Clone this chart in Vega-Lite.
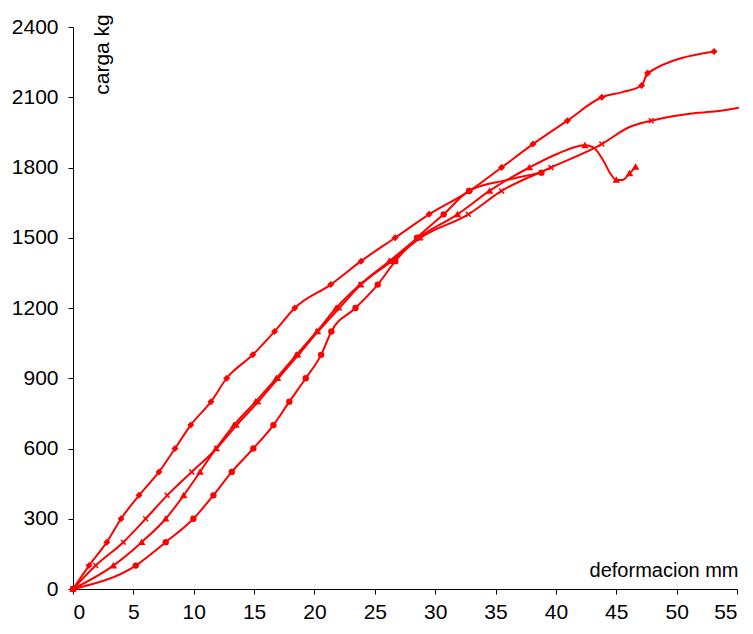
{
  "$schema": "https://vega.github.io/schema/vega-lite/v6.json",
  "width": 664,
  "height": 562,
  "autosize": {"type": "none"},
  "padding": {"left": 73, "top": 27, "right": 16, "bottom": 45},
  "background": "white",
  "config": {"view": {"stroke": null}, "font": "Liberation Sans"},
  "data": {"values": [
    {"s":"A","x":0,"y":0,"m":1},{"s":"A","x":1.33,"y":100,"m":1},{"s":"A","x":2.8,"y":200,"m":1},{"s":"A","x":3.98,"y":300,"m":1},{"s":"A","x":5.47,"y":400,"m":1},{"s":"A","x":7.12,"y":500,"m":1},{"s":"A","x":8.45,"y":600,"m":1},{"s":"A","x":9.75,"y":700,"m":1},{"s":"A","x":11.43,"y":800,"m":1},{"s":"A","x":12.73,"y":900,"m":1},{"s":"A","x":14.89,"y":1000,"m":1},{"s":"A","x":16.7,"y":1100,"m":1},{"s":"A","x":18.37,"y":1200,"m":1},{"s":"A","x":21.35,"y":1300,"m":1},{"s":"A","x":23.86,"y":1400,"m":1},{"s":"A","x":26.68,"y":1500,"m":1},{"s":"A","x":29.5,"y":1600,"m":1},{"s":"A","x":32.85,"y":1700,"m":1},{"s":"A","x":35.5,"y":1800,"m":1},{"s":"A","x":38.1,"y":1900,"m":1},{"s":"A","x":40.95,"y":2000,"m":1},{"s":"A","x":43.8,"y":2100,"m":1},{"s":"A","x":45.5,"y":2122,"m":0},{"s":"A","x":47.1,"y":2150,"m":1},{"s":"A","x":47.6,"y":2203,"m":1},{"s":"A","x":53.1,"y":2295,"m":1},
    {"s":"B","x":0,"y":0,"m":1},{"s":"B","x":1.88,"y":100,"m":1},{"s":"B","x":4.17,"y":200,"m":1},{"s":"B","x":6.02,"y":300,"m":1},{"s":"B","x":7.8,"y":400,"m":1},{"s":"B","x":9.83,"y":500,"m":1},{"s":"B","x":11.9,"y":600,"m":1},{"s":"B","x":13.56,"y":700,"m":1},{"s":"B","x":15.35,"y":800,"m":1},{"s":"B","x":17.0,"y":900,"m":1},{"s":"B","x":18.67,"y":1000,"m":1},{"s":"B","x":20.3,"y":1100,"m":1},{"s":"B","x":22.06,"y":1200,"m":1},{"s":"B","x":23.86,"y":1300,"m":1},{"s":"B","x":26.4,"y":1400,"m":1},{"s":"B","x":28.8,"y":1500,"m":1},{"s":"B","x":32.75,"y":1600,"m":1},{"s":"B","x":35.5,"y":1700,"m":1},{"s":"B","x":39.6,"y":1800,"m":1},{"s":"B","x":43.8,"y":1900,"m":1},{"s":"B","x":46.1,"y":1973,"m":0},{"s":"B","x":47.9,"y":2000,"m":1},{"s":"B","x":51.1,"y":2030,"m":0},{"s":"B","x":53.3,"y":2040,"m":0},{"s":"B","x":55.15,"y":2055,"m":0},
    {"s":"C","x":0,"y":0,"m":1},{"s":"C","x":3.34,"y":100,"m":1},{"s":"C","x":5.69,"y":200,"m":1},{"s":"C","x":7.68,"y":300,"m":1},{"s":"C","x":9.17,"y":400,"m":1},{"s":"C","x":10.52,"y":500,"m":1},{"s":"C","x":11.85,"y":600,"m":1},{"s":"C","x":13.34,"y":700,"m":1},{"s":"C","x":15.13,"y":800,"m":1},{"s":"C","x":16.85,"y":900,"m":1},{"s":"C","x":18.5,"y":1000,"m":1},{"s":"C","x":20.2,"y":1100,"m":1},{"s":"C","x":21.8,"y":1200,"m":1},{"s":"C","x":23.78,"y":1300,"m":1},{"s":"C","x":26.2,"y":1400,"m":1},{"s":"C","x":28.6,"y":1500,"m":1},{"s":"C","x":31.85,"y":1600,"m":1},{"s":"C","x":34.5,"y":1700,"m":1},{"s":"C","x":37.8,"y":1800,"m":1},{"s":"C","x":40.2,"y":1860,"m":0},{"s":"C","x":42.4,"y":1895,"m":1},{"s":"C","x":43.1,"y":1886,"m":0},{"s":"C","x":43.9,"y":1832,"m":0},{"s":"C","x":44.5,"y":1775,"m":0},{"s":"C","x":45.0,"y":1747,"m":1},{"s":"C","x":45.5,"y":1747,"m":0},{"s":"C","x":46.1,"y":1775,"m":1},{"s":"C","x":46.6,"y":1803,"m":1},
    {"s":"D","x":0,"y":0,"m":1},{"s":"D","x":5.2,"y":100,"m":1},{"s":"D","x":7.68,"y":200,"m":1},{"s":"D","x":9.97,"y":300,"m":1},{"s":"D","x":11.63,"y":400,"m":1},{"s":"D","x":13.15,"y":500,"m":1},{"s":"D","x":14.94,"y":600,"m":1},{"s":"D","x":16.6,"y":700,"m":1},{"s":"D","x":17.92,"y":800,"m":1},{"s":"D","x":19.28,"y":900,"m":1},{"s":"D","x":20.55,"y":1000,"m":1},{"s":"D","x":21.4,"y":1100,"m":1},{"s":"D","x":23.4,"y":1200,"m":1},{"s":"D","x":25.24,"y":1300,"m":1},{"s":"D","x":26.7,"y":1400,"m":1},{"s":"D","x":28.5,"y":1500,"m":1},{"s":"D","x":30.7,"y":1600,"m":1},{"s":"D","x":32.8,"y":1700,"m":1},{"s":"D","x":35.8,"y":1745,"m":0},{"s":"D","x":38.8,"y":1778,"m":1}
  ]},
  "encoding": {
    "x": {"field": "x", "type": "quantitative",
      "scale": {"domain": [0, 55], "nice": false, "zero": true},
      "axis": {"values": [0,5,10,15,20,25,30,35,40,45,50,55], "grid": false, "format": "d",
        "tickSize": 5, "tickColor": "#000", "domainColor": "#000", "labelColor": "#000",
        "labelFontSize": 21, "labelPadding": 7, "labelFont": "Liberation Sans",
        "title": "deformacion mm", "titleFontSize": 20, "titleFontWeight": "normal", "titleColor": "#000",
        "titleFont": "Liberation Sans", "titleX": 665, "titleY": -13, "titleAlign": "right", "titleBaseline": "alphabetic"}},
    "y": {"field": "y", "type": "quantitative",
      "scale": {"domain": [0, 2400], "nice": false, "zero": true},
      "axis": {"values": [0,300,600,900,1200,1500,1800,2100,2400], "grid": false, "format": "d",
        "tickSize": 5, "tickColor": "#000", "domainColor": "#000", "labelColor": "#000",
        "labelFontSize": 21, "labelPadding": 10, "labelFont": "Liberation Sans",
        "title": "carga kg", "titleFontSize": 21, "titleFontWeight": "normal", "titleColor": "#000",
        "titleFont": "Liberation Sans", "titleX": 29, "titleY": 27, "titleAngle": -90, "titleAlign": "center", "titleBaseline": "middle"}}
  },
  "layer": [
    {"mark": {"type": "line", "interpolate": "monotone", "color": "#ff0000", "strokeWidth": 2},
     "encoding": {"detail": {"field": "s"}}},
    {"transform": [{"filter": "datum.m == 1"}],
     "mark": {"type": "point", "filled": true, "fill": "#ff0000", "stroke": "#ff0000", "strokeWidth": 1.5, "opacity": 1, "size": 24},
     "encoding": {"shape": {"field": "s", "type": "nominal",
       "scale": {"domain": ["A","B","C","D"], "range": ["diamond", "M-1,-1L1,1M-1,1L1,-1", "triangle-up", "circle"]},
       "legend": null}}}
  ]
}
